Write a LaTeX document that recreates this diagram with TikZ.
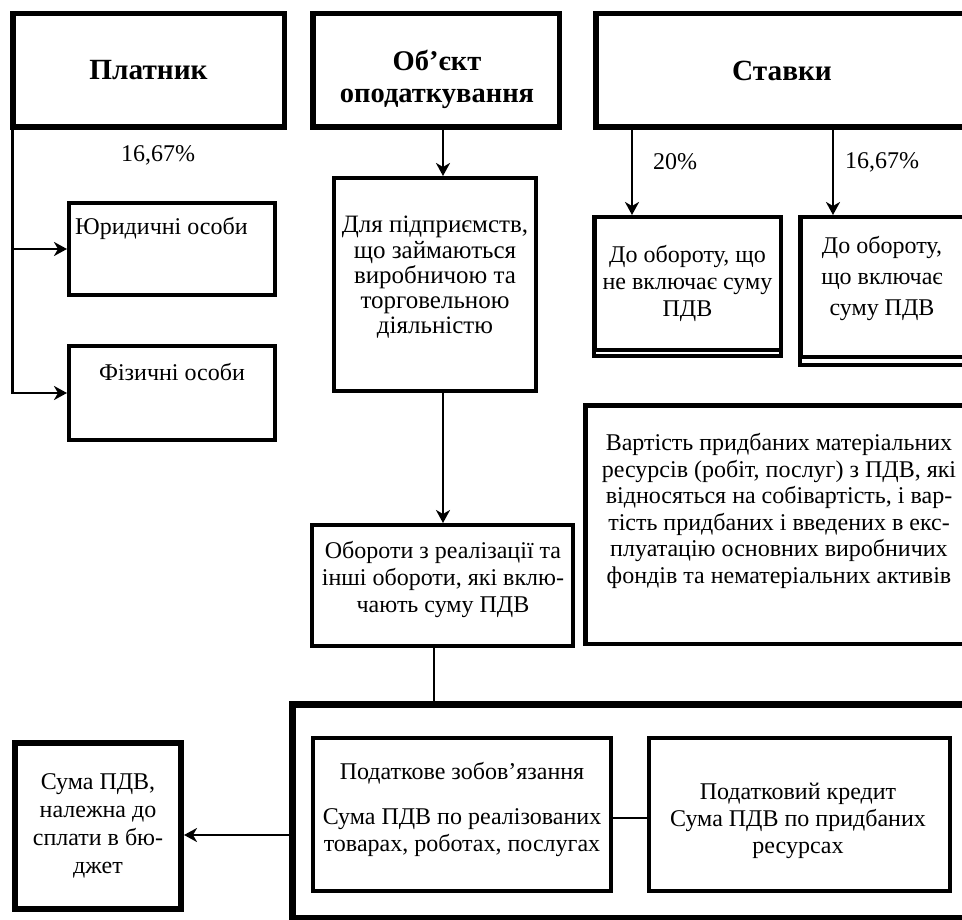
\documentclass[tikz,border=0pt]{standalone}
\usepackage{fontspec}
\setmainfont{Liberation Serif}
\usetikzlibrary{arrows.meta}
\begin{document}
\begin{tikzpicture}[x=1pt,y=-1pt,
  txt/.style={inner sep=0pt, align=center, draw=none, font=\fontsize{24}{27}\selectfont},
  hdtxt/.style={inner sep=0pt, align=center, draw=none, font=\fontsize{28.5}{32}\selectfont\bfseries},
  hd/.style={draw, line width=5.5pt, inner sep=0pt, align=center, font=\fontsize{29.3}{32}\selectfont\bfseries},
  bx/.style={draw, line width=4pt, inner sep=0pt, align=center, font=\fontsize{24}{27}\selectfont},
  arr/.style={line width=2.2pt, -{Stealth[length=13pt,width=14pt,inset=4pt]}},
]
\useasboundingbox (0,0) rectangle (962,920);
\clip (0,0) rectangle (962,920);

% header boxes
\node[hd, minimum width=271.5pt, minimum height=113.5pt] (plat) at (148.5,70.5) {Платник};
\node[hd, minimum width=246.5pt, minimum height=113.5pt,
  label={[hdtxt, anchor=center, xshift=127pt, yshift=-68pt]north west:{Об’єкт\\оподаткування}}] (obj) at (436,70.5) {};
\node[hd, minimum width=372.5pt, minimum height=113.5pt] (stav) at (782,70.5) {Ставки};

% payer boxes
\node[bx, minimum width=206pt, minimum height=92pt,
  label={[txt, anchor=west, xshift=8pt, yshift=-27pt]north west:{Юридичні особи}}] (yur) at (172,249) {};
\node[bx, minimum width=206pt, minimum height=94pt,
  label={[txt, anchor=center, xshift=105pt, yshift=-28pt]north west:{Фізичні особи}}] (fiz) at (172,393) {};

% object column
\node[bx, minimum width=202pt, minimum height=213pt,
  label={[txt, font=\fontsize{25}{25.3}\selectfont, anchor=center, xshift=103pt, yshift=-101.5pt]north west:{Для підприємств,\\що займаються\\виробничою та\\торговельною\\діяльністю}}] (dlya) at (435,284.5) {};
\node[bx, minimum width=261pt, minimum height=121pt,
  label={[txt, anchor=center, xshift=133pt, yshift=-56.5pt]north west:{Обороти з реалізації та\\інші обороти, які вклю-\\чають суму ПДВ}}] (obor) at (442.5,585.5) {};

% rates
\node[bx, line width=4.5pt, minimum width=186.5pt, minimum height=132.5pt] (b1) at (687.5,283.5) {До обороту, що\\не включає суму\\ПДВ};
\node[bx, line width=4.5pt, minimum width=182.5pt, minimum height=139.5pt,
  label={[txt, font=\fontsize{24}{31}\selectfont, anchor=center, xshift=84pt, yshift=-64pt]north west:{До обороту,\\що включає\\суму ПДВ}}] (b2) at (891.5,287) {};
\draw[line width=4pt] ([xshift=2.25pt]b1.south west) -- ++(0,4) -| ([xshift=-2.25pt]b1.south east);
\draw[line width=4pt] ([xshift=2.25pt]b2.south west) -- ++(0,5.5) -| ([xshift=-2.25pt]b2.south east);

% cost box
\node[bx, line width=4.5pt, minimum width=387.5pt, minimum height=238.5pt,
  label={[txt, font=\fontsize{24}{26.6}\selectfont, anchor=center, xshift=196pt, yshift=-108pt]north west:{Вартість придбаних матеріальних\\ресурсів (робіт, послуг) з ПДВ, які\\відносяться на собівартість, і вар-\\тість придбаних і введених в екс-\\плуатацію основних виробничих\\фондів та нематеріальних активів}}] (vart) at (779,524.5) {};

% bottom part
\node[bx, line width=7pt, minimum width=694pt, minimum height=214pt] (frame) at (639.5,811.5) {};
\node[bx, line width=6pt, minimum width=166pt, minimum height=166pt, font=\fontsize{24}{28}\selectfont] (suma) at (98,826) {Сума ПДВ,\\належна до\\сплати в бю-\\джет};
\node[bx, minimum width=298pt, minimum height=153pt,
  label={[txt, anchor=center, xshift=151pt, yshift=-73pt]north west:{Податкове зобов’язання\\[18pt]Сума ПДВ по реалізованих\\товарах, роботах, послугах}}] (podzob) at (462,814.5) {};
\node[bx, minimum width=301pt, minimum height=153pt,
  label={[txt, anchor=center, xshift=151pt, yshift=-85pt]north west:{Податковий кредит\\Сума ПДВ по придбаних\\ресурсах}}] (kred) at (799.5,814.5) {};

% percentage labels
\node[txt] (p1) at (158,155) {16,67\%};
\node[txt] (p2) at (675,162) {20\%};
\node[txt] (p3) at (882,162) {16,67\%};

% connectors
\coordinate (sx) at (12.5,0);
\coordinate (sp) at (443,0);
\coordinate (sq) at (434,0);
\coordinate (a1) at (632,0);
\coordinate (a2) at (833,0);
\coordinate (ay) at (0,835);
\coordinate (yc) at (0,818);
\draw[arr] (plat.south -| sx) |- (yur.west);
\draw[arr] (plat.south -| sx) |- (fiz.west);
\draw[arr] (obj.south -| sp) -- (dlya.north -| sp);
\draw[arr] (dlya.south -| sp) -- (obor.north -| sp);
\draw[line width=1.3pt] (obor.south -| sq) -- (frame.north -| sq);
\draw[arr] (stav.south -| a1) -- (b1.north -| a1);
\draw[arr] (stav.south -| a2) -- (b2.north -| a2);
\draw[arr] (frame.west |- ay) -- (suma.east |- ay);
\draw[line width=2.5pt] (podzob.east |- yc) -- (kred.west |- yc);
\end{tikzpicture}
\end{document}
